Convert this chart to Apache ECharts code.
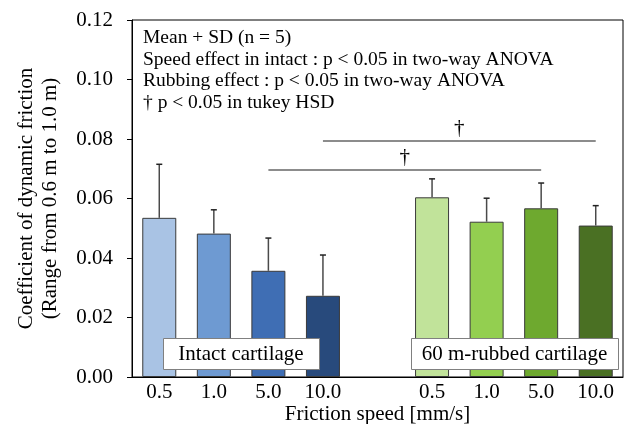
<!DOCTYPE html>
<html>
<head>
<meta charset="utf-8">
<script src="https://cdn.jsdelivr.net/npm/echarts@6/dist/echarts.min.js"></script>
<style>html,body{margin:0;padding:0;background:#fff}#c{width:624px;height:424px}</style>
</head>
<body>
<div id="c"></div>
<script>
const categories = ['0.5', '1.0', '5.0', '10.0', '', '0.5', '1.0', '5.0', '10.0'];
const means = [0.0535, 0.0482, 0.0357, 0.0273, null, 0.0604, 0.0522, 0.0567, 0.0509];
const upper = [0.0715, 0.0562, 0.0467, 0.0410, null, 0.0666, 0.0601, 0.0652, 0.0576];
const barColors = ['#A9C3E4', '#6E9AD2', '#3F6EB4', '#284A7C', '#ffffff', '#C1E39A', '#93CF50', '#6EA92F', '#4A7023'];
const yTicks = [0, 0.02, 0.04, 0.06, 0.08, 0.10, 0.12];
const sigLines = [
  { from: 3, to: 8, y: 0.0793 },
  { from: 2, to: 7, y: 0.0696 }
];
const noteLines = [
  'Mean + SD (n = 5)',
  'Speed effect in intact : p < 0.05 in two-way ANOVA',
  'Rubbing effect : p < 0.05 in two-way ANOVA',
  '† p < 0.05 in tukey HSD'
];
const groupLabels = ['Intact cartilage', '60 m-rubbed cartilage'];

const FONT = "'Liberation Serif', 'Times New Roman', serif";
const chart = echarts.init(document.getElementById('c'), null, { renderer: 'canvas' });

const barData = means.map((v, i) => v == null ? '-' : { value: v, itemStyle: { color: barColors[i] } });
const errData = [];
means.forEach((v, i) => { if (v != null) errData.push([i, v, upper[i]]); });

const option = {
  animation: false,
  backgroundColor: '#fff',
  textStyle: { fontFamily: FONT, color: '#000' },
  grid: { left: 132, right: 1, top: 20, bottom: 47, show: true, borderColor: '#000', borderWidth: 1, backgroundColor: 'transparent', containLabel: false, outerBoundsMode: 'none' },
  xAxis: {
    type: 'category',
    data: categories,
    axisLine: { lineStyle: { color: '#000', width: 1 } },
    axisTick: { show: false },
    axisLabel: { color: '#000', fontFamily: FONT, fontSize: 21, margin: 5, interval: 0 },
    name: 'Friction speed [mm/s]',
    nameLocation: 'middle',
    nameGap: 27,
    nameMoveOverlap: false,
    nameTextStyle: { color: '#000', fontFamily: FONT, fontSize: 21 }
  },
  yAxis: {
    type: 'value',
    min: 0, max: 0.12, interval: 0.02,
    axisLine: { show: true, lineStyle: { color: '#000', width: 1 } },
    axisTick: { show: true, length: 5, lineStyle: { color: '#000' } },
    splitLine: { show: false },
    axisLabel: { color: '#000', fontFamily: FONT, fontSize: 21, margin: 19, formatter: v => v.toFixed(2) },
    name: 'Coefficient of dynamic friction\n(Range from 0.6 m to 1.0 m)',
    nameLocation: 'middle',
    nameGap: 70,
    nameMoveOverlap: false,
    nameTextStyle: { color: '#000', fontFamily: FONT, fontSize: 21, lineHeight: 24 }
  },
  series: [
    {
      type: 'bar',
      data: barData,
      barWidth: 34,
      itemStyle: { borderColor: '#3a3a3a', borderWidth: 1 },
      markLine: {
        silent: true,
        symbol: 'none',
        lineStyle: { color: '#666', width: 1.5, type: 'solid' },
        label: { show: true, position: 'middle', formatter: '†', color: '#000', fontFamily: FONT, fontSize: 21, distance: 2 },
        data: sigLines.map(s => [{ coord: [s.from, s.y] }, { coord: [s.to, s.y] }])
      },
      z: 2
    },
    {
      type: 'custom',
      data: errData,
      z: 3,
      renderItem: function (params, api) {
        const x = api.value(0);
        const p0 = api.coord([x, api.value(1)]);
        const p1 = api.coord([x, api.value(2)]);
        return {
          type: 'group',
          children: [
            { type: 'line', shape: { x1: p0[0], y1: p0[1], x2: p1[0], y2: p1[1] }, style: { stroke: '#4a4a4a', lineWidth: 1.5 } },
            { type: 'line', shape: { x1: p1[0] - 3, y1: p1[1], x2: p1[0] + 3, y2: p1[1] }, style: { stroke: '#222', lineWidth: 1.5 } }
          ]
        };
      }
    }
  ],
  graphic: [
    {
      type: 'text', left: 143, top: 27.5, z: 100,
      style: { text: noteLines.join('\n'), font: "19.5px " + FONT, fill: '#000', lineHeight: 21.5 }
    },
    {
      type: 'rect', left: 163, top: 338, z: 100,
      shape: { x: 0, y: 0, width: 156, height: 31 }, style: { fill: '#fff', stroke: '#808080', lineWidth: 1 }
    },
    {
      type: 'text', x: 241, y: 354, z: 101,
      style: { text: groupLabels[0], font: "21px " + FONT, fill: '#000', align: 'center', verticalAlign: 'middle' }
    },
    {
      type: 'rect', left: 411, top: 338, z: 100,
      shape: { x: 0, y: 0, width: 207, height: 31 }, style: { fill: '#fff', stroke: '#808080', lineWidth: 1 }
    },
    {
      type: 'text', x: 514.5, y: 354, z: 101,
      style: { text: groupLabels[1], font: "21px " + FONT, fill: '#000', align: 'center', verticalAlign: 'middle' }
    }
  ]
};
chart.setOption(option);
</script>
</body>
</html>
